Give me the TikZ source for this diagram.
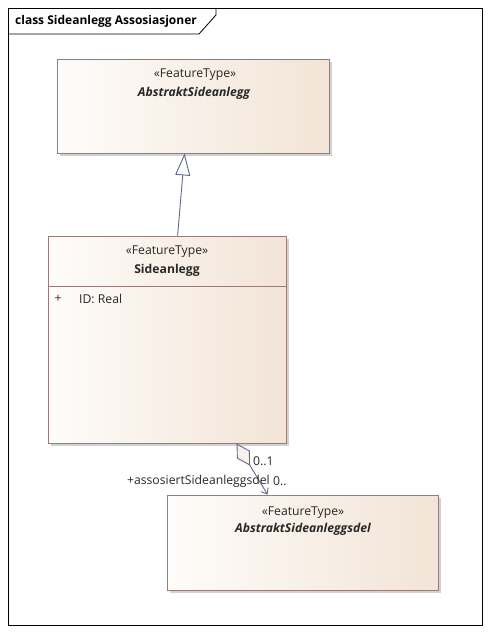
\documentclass[tikz,border=0pt]{standalone}
\usepackage{fontspec}
\setmainfont{Open Sans}
\usepackage{tikz}
\usetikzlibrary{positioning, calc, arrows.meta, shadows}
\definecolor{umlborder}{RGB}{150,124,122}
\definecolor{umlfillA}{RGB}{254,252,250}
\definecolor{umlfillB}{RGB}{242,228,214}
\definecolor{umlline}{RGB}{96,106,138}
\definecolor{umltext}{RGB}{40,40,40}
\definecolor{umlplus}{RGB}{128,0,64}
\tikzstyle{ClassBox} = [
draw=umlborder, line width=0.8pt,
left color=umlfillA, right color=umlfillB,
drop shadow={shadow xshift=3pt, shadow yshift=-3pt, fill=black!30, opacity=.6},
inner sep=0pt]
\tikzstyle{Stereo} = [text=umltext, font=\fontsize{12.2}{14}\selectfont, inner sep=0pt]
\tikzstyle{ClassName} = [text=umltext, font=\fontsize{12.2}{14}\selectfont\bfseries, inner sep=0pt]
\tikzstyle{Role} = [text=umltext, font=\fontsize{12.2}{14}\selectfont, inner sep=0pt]

\begin{document}
\begin{tikzpicture}[x=1pt, y=-1pt]
    \useasboundingbox (0,0) rectangle (489,635);
    % frame and tab
    \draw [line width=0.8pt] (8,8) rectangle (482,625);
    \draw [line width=0.8pt] (8,34) -- (199,34) -- (216,15) -- (216,8);
    \node [anchor=west, inner sep=0pt, font=\fontsize{12}{14}\selectfont\bfseries](title) at (15,21){class Sideanlegg Assosiasjoner};

    \node [ClassBox, minimum width=272pt, minimum height=94pt](abs) at (193,106){};
    \node [ClassBox, minimum width=238pt, minimum height=207pt](side) at (167,339.5){};
    \node [ClassBox, minimum width=271pt, minimum height=95pt](del) at (302.5,542.5){};

    \node [Stereo](abs-st) at (195,75){«FeatureType»};
    \node [ClassName, font=\fontsize{12.2}{14}\selectfont\bfseries\itshape](abs-nm) at (194,93){AbstraktSideanlegg};

    \node [Stereo](side-st) at (167,252){«FeatureType»};
    \node [ClassName](side-nm) at (167,270){Sideanlegg};
    \draw [umlborder, line width=0.8pt] ($(side.north west)+(0,51)$) -- ($(side.north east)+(0,51)$);
    \node [Role, text=umlplus](side-plus) at (58,299){+};
    \node [Role, anchor=west](side-id) at (79,299){ID: Real};

    \node [Stereo](del-st) at (303,513){«FeatureType»};
    \node [ClassName, font=\fontsize{12.2}{14}\selectfont\bfseries\itshape](del-nm) at (303,529){AbstraktSideanleggsdel};

    % generalization
    \coordinate (gen-s) at ($(side.north west)+(130,0)$);
    \coordinate (gen-t) at ($(abs.south west)+(128,0)$);
    \draw [umlline, line width=0.9pt, -{Triangle[open, length=22pt, width=15pt, fill=umlfillA]}] (gen-s) -- (gen-t);

    % aggregation
    \coordinate (agg-s) at ($(side.south west)+(189,0)$);
    \coordinate (agg-t) at ($(del.north west)+(101,0)$);
    \draw [umlline, line width=0.9pt, {Diamond[open, length=26pt, width=15pt, fill=umlfillA!60!umlfillB]}-{Straight Barb[length=5pt, width=8pt]}] (agg-s) -- (agg-t);
    \node [Role, anchor=west](agg-m1) at (253,461){0..1};
    \node [Role, anchor=east](agg-role) at (270,481){+assosiertSideanleggsdel};
    \node [Role, anchor=west](agg-m2) at (273,481){0..};
\end{tikzpicture}
\end{document}
